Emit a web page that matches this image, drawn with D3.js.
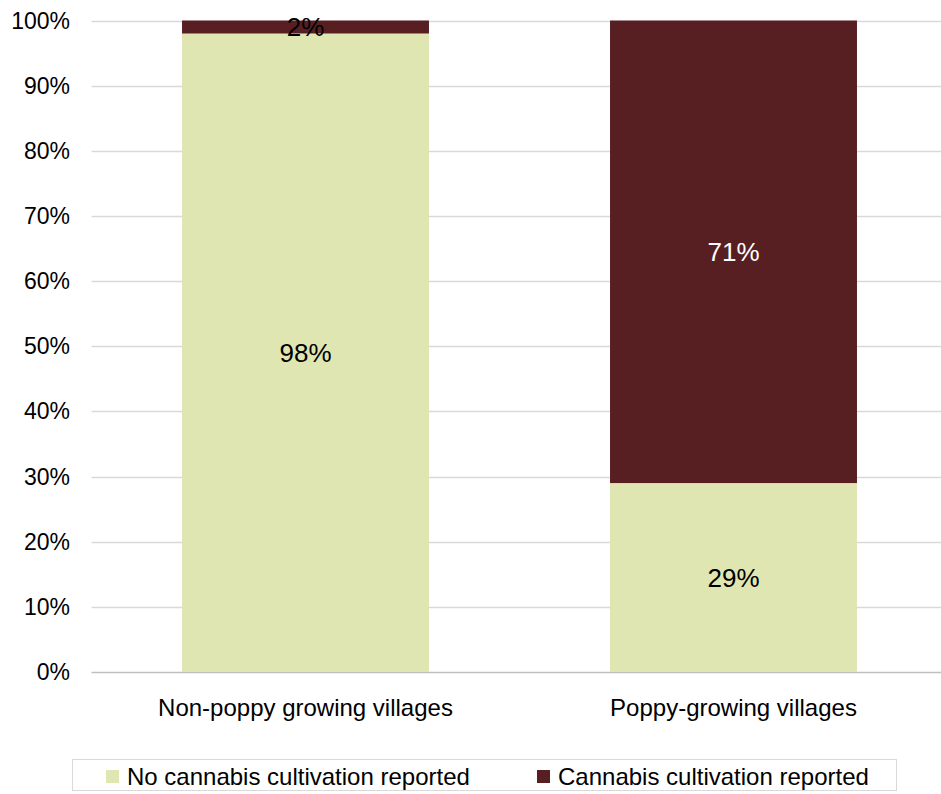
<!DOCTYPE html>
<html>
<head>
<meta charset="utf-8">
<script src="https://cdn.jsdelivr.net/npm/d3@7"></script>
<style>
  html, body { margin: 0; padding: 0; background: #fff; }
  svg { display: block; font-family: "Liberation Sans", Arial, sans-serif; }
</style>
</head>
<body>
<svg id="chart" width="941" height="794"></svg>
<script>
// Share of villages reporting cannabis cultivation, by poppy status
const categories = ["Non-poppy growing villages", "Poppy-growing villages"];
const seriesNames = ["No cannabis cultivation reported", "Cannabis cultivation reported"];
const noCannabis = [98, 29];
const cannabis = [2, 71];
const yTicks = [0, 10, 20, 30, 40, 50, 60, 70, 80, 90, 100];

const colors = ["#dfe6b2", "#581f23"];
const labelColors = ["#000000", "#ffffff"];

const svg = d3.select("#chart");
const plot = { left: 91.5, right: 947.5, top: 20.5, bottom: 672 };

const x = d3.scaleBand()
  .domain(categories)
  .range([plot.left, plot.right])
  .paddingInner(0.423)
  .paddingOuter(0.2115);

const y = d3.scaleLinear().domain([0, 100]).range([plot.bottom, plot.top]);

// gridlines
svg.append("g")
  .selectAll("line")
  .data(yTicks)
  .join("line")
  .attr("x1", plot.left)
  .attr("x2", plot.right)
  .attr("y1", d => Math.round(y(d)) + 0.5)
  .attr("y2", d => Math.round(y(d)) + 0.5)
  .attr("stroke", d => d === 0 ? "#bfbfbf" : "#d9d9d9")
  .attr("stroke-width", 1.3);

// y tick labels
svg.append("g")
  .selectAll("text")
  .data(yTicks)
  .join("text")
  .attr("x", 70)
  .attr("y", d => y(d))
  .attr("dy", "0.35em")
  .attr("text-anchor", "end")
  .attr("font-size", 23)
  .attr("fill", "#000")
  .text(d => d + "%");

// stacked bars
const rows = categories.map((c, i) => ({ category: c, s0: noCannabis[i], s1: cannabis[i] }));
const stacked = d3.stack().keys(["s0", "s1"])(rows);

const layers = svg.append("g")
  .selectAll("g")
  .data(stacked)
  .join("g")
  .attr("fill", (d, i) => colors[i]);

layers.selectAll("rect")
  .data(d => d)
  .join("rect")
  .attr("x", d => x(d.data.category))
  .attr("width", x.bandwidth())
  .attr("y", d => y(d[1]))
  .attr("height", d => y(d[0]) - y(d[1]));

// value labels
stacked.forEach((layer, li) => {
  svg.append("g")
    .selectAll("text")
    .data(layer)
    .join("text")
    .attr("x", d => x(d.data.category) + x.bandwidth() / 2)
    .attr("y", d => y((d[0] + d[1]) / 2))
    .attr("dy", "0.36em")
    .attr("text-anchor", "middle")
    .attr("font-size", 26)
    .attr("fill", d => (d[1] - d[0]) < 5 ? "#000" : labelColors[li])
    .text(d => (d[1] - d[0]) + "%");
});

// category labels
svg.append("g")
  .selectAll("text")
  .data(categories)
  .join("text")
  .attr("x", d => x(d) + x.bandwidth() / 2)
  .attr("y", 715.5)
  .attr("text-anchor", "middle")
  .attr("font-size", 24)
  .attr("fill", "#000")
  .text(d => d);

// legend
const legend = svg.append("g");
legend.append("rect")
  .attr("x", 72.5).attr("y", 759.5)
  .attr("width", 824).attr("height", 31)
  .attr("fill", "#fff")
  .attr("stroke", "#d9d9d9");

const legendX = [106, 537];
seriesNames.forEach((name, i) => {
  legend.append("rect")
    .attr("x", legendX[i]).attr("y", 770)
    .attr("width", 13).attr("height", 13)
    .attr("fill", colors[i]);
  legend.append("text")
    .attr("x", legendX[i] + 21).attr("y", 776.5)
    .attr("dy", "0.35em")
    .attr("font-size", 24)
    .attr("fill", "#000")
    .text(name);
});
</script>
</body>
</html>
